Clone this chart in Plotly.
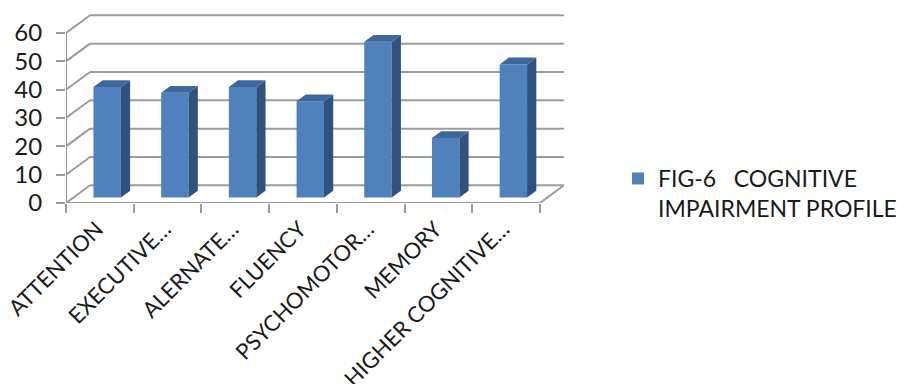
import plotly.graph_objects as go

# ---- data ----
categories = ["ATTENTION", "EXECUTIVE…", "ALERNATE…", "FLUENCY",
              "PSYCHOMOTOR…", "MEMORY", "HIGHER COGNITIVE…"]
values = [39, 37, 39, 34, 55, 21, 47]
y_ticks = [0, 10, 20, 30, 40, 50, 60]
series_name = "FIG-6\u00a0\u00a0\u00a0COGNITIVE<br>IMPAIRMENT PROFILE"

# ---- 3D (oblique) geometry, in axis units ----
DEPTH_X = 0.3545   # full-depth shift in category units
DEPTH_Y = 6.25     # full-depth shift in value units
BAR_W = 0.405
D0, D1 = 0.305, 0.69   # bar front / back depth fraction

FRONT = "#4F81BD"
SIDE = "#30527E"
TOP = "#3E679C"
GRID = "#9c9c9c"
FONT = "Lato"

n = len(categories)
base = D0 * DEPTH_Y
xs = [i + 0.5 + D0 * DEPTH_X for i in range(n)]
dx = (D1 - D0) * DEPTH_X
dy = (D1 - D0) * DEPTH_Y

fig = go.Figure()
fig.add_trace(go.Bar(
    x=xs, y=values, base=[base] * n, width=BAR_W,
    marker=dict(color=FRONT, line=dict(width=0)),
    name=series_name, showlegend=True, hoverinfo="skip",
))

shapes = []
gl = dict(color=GRID, width=2)
for v in y_ticks:
    shapes.append(dict(type="line", xref="x", yref="y", layer="below",
                       x0=DEPTH_X, y0=v + DEPTH_Y, x1=n + DEPTH_X, y1=v + DEPTH_Y, line=gl))
    shapes.append(dict(type="line", xref="x", yref="y", layer="below",
                       x0=0, y0=v, x1=DEPTH_X, y1=v + DEPTH_Y, line=gl))
# floor right edge, front floor, front value axis
shapes.append(dict(type="line", xref="x", yref="y", layer="below",
                   x0=n, y0=0, x1=n + DEPTH_X, y1=DEPTH_Y, line=gl))
shapes.append(dict(type="line", xref="x", yref="y", layer="below",
                   x0=0, y0=0, x1=n, y1=0, line=gl))
shapes.append(dict(type="line", xref="x", yref="y", layer="below",
                   x0=0, y0=0, x1=0, y1=max(y_ticks), line=gl))

for x, v in zip(xs, values):
    xl, xr = x - BAR_W / 2, x + BAR_W / 2
    top = base + v
    shapes.append(dict(type="path", xref="x", yref="y", layer="above",
                       path=f"M{xr},{base} L{xr+dx},{base+dy} L{xr+dx},{top+dy} L{xr},{top} Z",
                       fillcolor=SIDE, line=dict(width=0)))
    shapes.append(dict(type="path", xref="x", yref="y", layer="above",
                       path=f"M{xl},{top} L{xr},{top} L{xr+dx},{top+dy} L{xl+dx},{top+dy} Z",
                       fillcolor=TOP, line=dict(width=0)))

PLOT_L, PLOT_R, PLOT_T, PLOT_B = 66, 564, 14, 203
px_per_cat = 67.7
px_per_val = 170 / 60

fig.update_layout(
    width=903, height=384,
    margin=dict(l=PLOT_L, r=903 - PLOT_R, t=PLOT_T, b=384 - PLOT_B, pad=0, autoexpand=False),
    paper_bgcolor="white", plot_bgcolor="white",
    font=dict(family=FONT, size=22, color="#1a1a1a"),
    shapes=shapes,
    showlegend=True,
    legend=dict(x=(618 - PLOT_L) / (PLOT_R - PLOT_L), xanchor="left",
                y=(PLOT_B - 157) / (PLOT_B - PLOT_T), yanchor="top",
                valign="top", font=dict(family=FONT, size=23, color="#1a1a1a"),
                bgcolor="rgba(0,0,0,0)"),
    xaxis=dict(range=[0, (PLOT_R - PLOT_L) / px_per_cat], automargin=False,
               tickmode="array", tickvals=[i + 0.5 for i in range(n)], ticktext=categories,
               tickangle=-45, ticks="", showgrid=False, zeroline=False, showline=False,
               tickfont=dict(family=FONT, size=22, color="#1a1a1a"),
               ticklabelstandoff=8, ticklabelshift=-3, ticklabeloverflow="allow",
               minor=dict(tickmode="array", tickvals=list(range(n + 1)), ticks="outside",
                          ticklen=9, tickwidth=2, tickcolor=GRID, showgrid=False),
               fixedrange=True),
    yaxis=dict(range=[0, (PLOT_B - PLOT_T) / px_per_val], automargin=False,
               tickmode="array", tickvals=y_ticks, ticks="outside", ticklen=9,
               tickwidth=2, tickcolor=GRID, showgrid=False, zeroline=False, showline=False,
               tickfont=dict(family=FONT, size=24, color="#1a1a1a"),
               ticklabelstandoff=9, ticklabeloverflow="allow", fixedrange=True),
)

fig.write_html("out.html")
